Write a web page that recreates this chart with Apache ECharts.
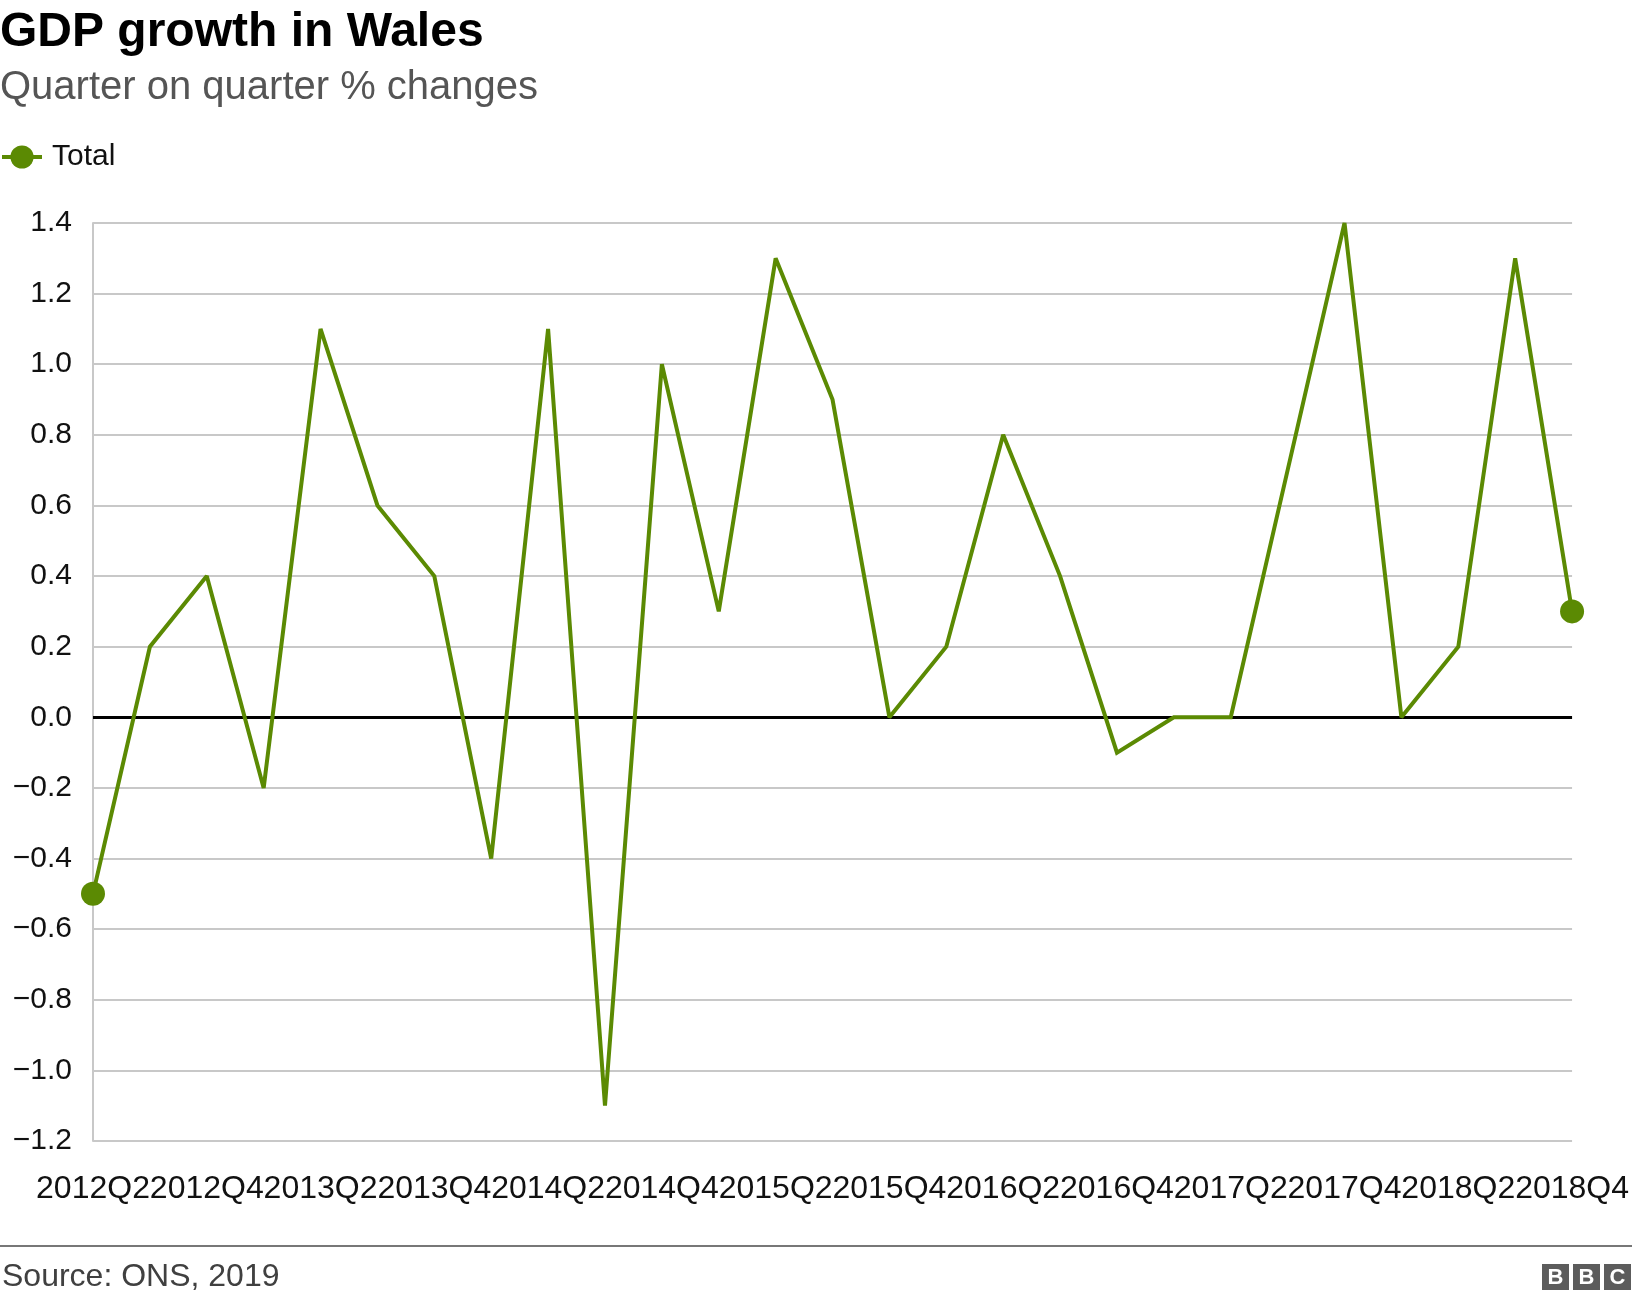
<!DOCTYPE html>
<html>
<head>
<meta charset="utf-8">
<title>GDP growth in Wales</title>
<script src="https://cdn.jsdelivr.net/npm/echarts@6/dist/echarts.min.js"></script>
<style>
  html, body { margin: 0; padding: 0; background: #fff; }
  #chart { width: 1632px; height: 1302px; }
</style>
</head>
<body>
<div id="chart"></div>
<script>
// quarters shown on the x axis
var quarters = [
  '2012Q2', '2012Q3', '2012Q4',
  '2013Q1', '2013Q2', '2013Q3', '2013Q4',
  '2014Q1', '2014Q2', '2014Q3', '2014Q4',
  '2015Q1', '2015Q2', '2015Q3', '2015Q4',
  '2016Q1', '2016Q2', '2016Q3', '2016Q4',
  '2017Q1', '2017Q2', '2017Q3', '2017Q4',
  '2018Q1', '2018Q2', '2018Q3', '2018Q4'
];
// quarter on quarter % change, Total
var totalGrowth = [
  -0.5, 0.2, 0.4,
  -0.2, 1.1, 0.6, 0.4,
  -0.4, 1.1, -1.1, 1.0,
  0.3, 1.3, 0.9, 0.0,
  0.2, 0.8, 0.4, -0.1,
  0.0, 0.0, 0.7, 1.4,
  0.0, 0.2, 1.3, 0.3
];
var yMin = -1.2, yMax = 1.4, yStep = 0.2;

var FONT = '"Liberation Sans", Arial, Helvetica, sans-serif';
var GREEN = '#5b8a03';

// only the first and last points get a dot
var lineData = totalGrowth.map(function (v, i) {
  var ends = (i === 0 || i === totalGrowth.length - 1);
  return { value: v, symbol: ends ? 'circle' : 'none' };
});

var chart = echarts.init(document.getElementById('chart'));
chart.setOption({
  animation: false,
  backgroundColor: '#fff',
  textStyle: { fontFamily: FONT },
  title: {
    text: 'GDP growth in Wales',
    subtext: 'Quarter on quarter % changes',
    left: 0,
    top: 9,
    padding: 0,
    itemGap: 11,
    textStyle: { fontFamily: FONT, fontSize: 48, lineHeight: 48, fontWeight: 'bold', color: '#000' },
    subtextStyle: { fontFamily: FONT, fontSize: 40, lineHeight: 40, color: '#555' }
  },
  legend: {
    left: 0,
    top: 142,
    padding: 0,
    itemWidth: 40,
    itemHeight: 29,
    lineStyle: { width: 4 },
    textStyle: { fontFamily: FONT, fontSize: 30, color: '#111', padding: [0, 0, 0, 5] },
    data: ['Total']
  },
  grid: { left: 93, right: 57, top: 223, bottom: 161 },
  xAxis: {
    type: 'category',
    data: quarters,
    boundaryGap: false,
    axisLine: { show: false },
    axisTick: { show: false },
    splitLine: { show: false },
    axisLabel: {
      interval: 1,
      margin: 32,
      fontFamily: FONT,
      fontSize: 32,
      color: '#111'
    }
  },
  yAxis: {
    type: 'value',
    min: yMin,
    max: yMax,
    interval: yStep,
    axisLine: { show: true, lineStyle: { color: '#c8c8c8', width: 2 } },
    axisTick: { show: false },
    splitLine: { lineStyle: { color: '#c8c8c8', width: 2 } },
    axisLabel: {
      margin: 21,
      fontFamily: FONT,
      fontSize: 30,
      color: '#111',
      formatter: function (v) {
        return v.toFixed(1).replace('-', '\u2212');
      }
    }
  },
  series: [{
    name: 'Total',
    type: 'line',
    data: lineData,
    symbol: 'circle',
    symbolSize: 24,
    showAllSymbol: true,
    itemStyle: { color: GREEN },
    lineStyle: { color: GREEN, width: 4, join: 'miter', miterLimit: 2 },
    z: 3,
    markLine: {
      silent: true,
      symbol: ['none', 'none'],
      label: { show: false },
      lineStyle: { color: '#000', width: 3, type: 'solid' },
      data: [{ yAxis: 0 }],
      z: 2
    }
  }],
  graphic: [
    {
      type: 'line',
      shape: { x1: 0, y1: 1246, x2: 1632, y2: 1246 },
      style: { stroke: '#777', lineWidth: 2 }
    },
    {
      type: 'text',
      left: 2,
      top: 1261,
      style: { text: 'Source: ONS, 2019', font: '32px ' + FONT, fill: '#404040' }
    },
    {
      type: 'group',
      left: 1542,
      top: 1264,
      children: [
        { type: 'rect', shape: { x: 0, y: 0, width: 27, height: 26 }, style: { fill: '#5c5c5c' } },
        { type: 'rect', shape: { x: 31, y: 0, width: 27, height: 26 }, style: { fill: '#5c5c5c' } },
        { type: 'rect', shape: { x: 62, y: 0, width: 27, height: 26 }, style: { fill: '#5c5c5c' } },
        { type: 'text', x: 13.5, y: 13.5, style: { text: 'B', font: 'bold 22px ' + FONT, fill: '#fff', align: 'center', verticalAlign: 'middle' } },
        { type: 'text', x: 44.5, y: 13.5, style: { text: 'B', font: 'bold 22px ' + FONT, fill: '#fff', align: 'center', verticalAlign: 'middle' } },
        { type: 'text', x: 75.5, y: 13.5, style: { text: 'C', font: 'bold 22px ' + FONT, fill: '#fff', align: 'center', verticalAlign: 'middle' } }
      ]
    }
  ]
});
</script>
</body>
</html>
